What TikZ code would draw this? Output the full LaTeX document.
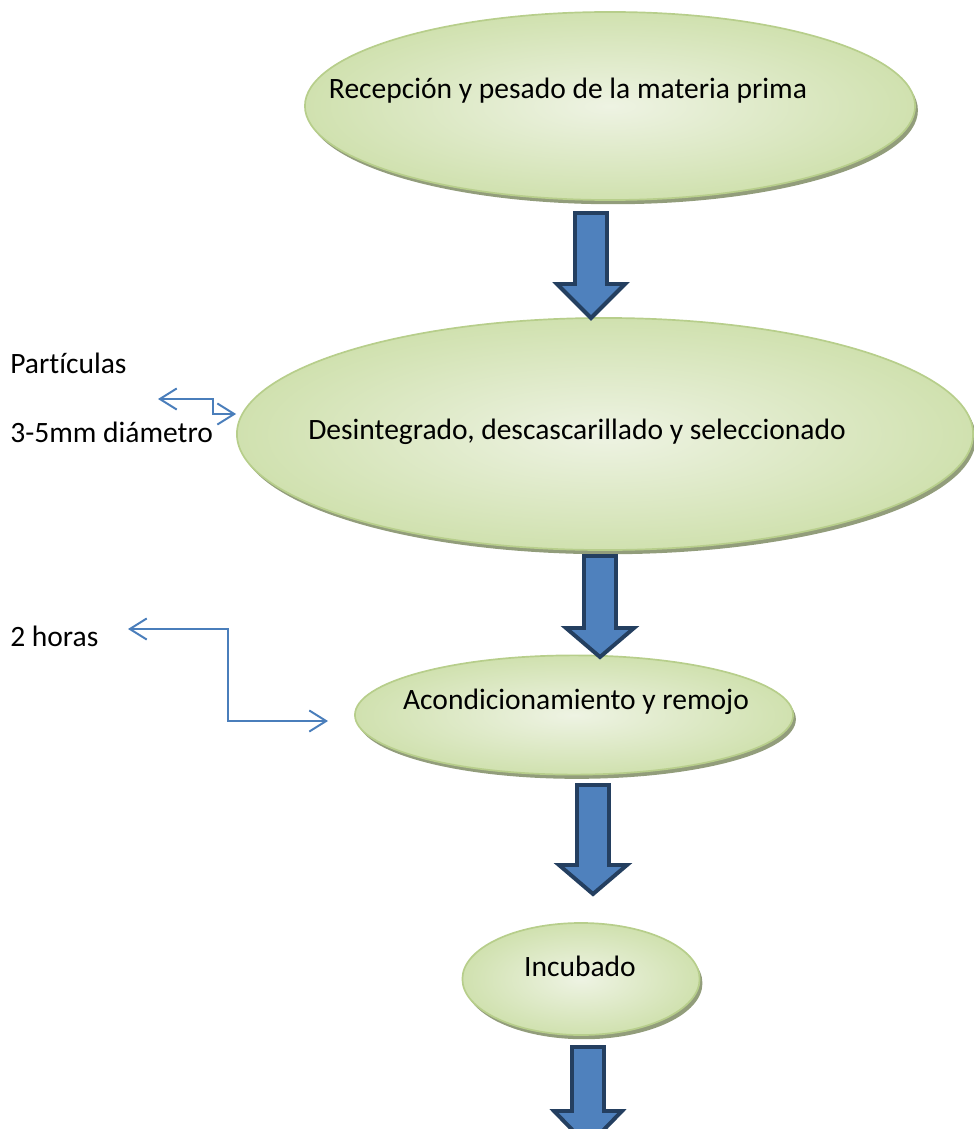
\documentclass[tikz,border=0pt]{standalone}
\usepackage{fontspec}
\setmainfont{Carlito}[Ligatures=NoCommon]
\usetikzlibrary{shapes.geometric,shadows,arrows.meta}
\definecolor{olivein}{HTML}{EEF3E3}
\definecolor{oliveout}{HTML}{D0E1AF}
\definecolor{oliveline}{HTML}{B7CE8B}
\definecolor{blockfill}{HTML}{4F81BD}
\definecolor{blockline}{HTML}{243F60}
\definecolor{linkblue}{HTML}{4A7EBB}
\begin{document}
\begin{tikzpicture}[x=0.025cm,y=-0.025cm,
    font=\fontsize{21}{25}\selectfont,
    etapa/.style={ellipse,inner sep=0pt,draw=oliveline,line width=1.2pt,
      inner color=olivein,outer color=oliveout,
      drop shadow={shadow xshift=2pt,shadow yshift=-3pt,fill=black!30!oliveout,opacity=1}},
    nota/.style={anchor=west,inner sep=0pt},
    enlace/.style={draw=linkblue,line width=1.4pt,{Straight Barb[length=12pt,width=15pt]}-{Straight Barb[length=12pt,width=15pt]}},
    bloque/.style={fill=blockfill,draw=blockline,line width=2.8pt,line join=miter}]
  \useasboundingbox (0,0) rectangle (973,1129);
  % etapas
  \node[etapa,minimum width=15.25cm,minimum height=4.7cm] (recep) at (610,106) {};
  \node[etapa,minimum width=18.4cm,minimum height=5.8cm] (desint) at (605,434) {};
  \node[etapa,minimum width=10.95cm,minimum height=2.98cm] (acond) at (574,715) {};
  \node[etapa,minimum width=5.93cm,minimum height=2.8cm] (incub) at (581,979) {};
  \path
  (568,91) node (recep-t) {Recepción y pesado de la materia prima}
  (577,432) node (desint-t) {Desintegrado, descascarillado y seleccionado}
  (576,702) node (acond-t) {Acondicionamiento y remojo}
  (580,966) node (incub-t) {Incubado}
  (10,363) node[nota] (part) {Partículas}
  (10,432) node[nota] (diam) {3-5mm diámetro}
  (10,636) node[nota] (horas) {2 horas}
  ;
  % flechas de bloque
  \foreach \cx/\top/\base/\tip in {591/213/284/318, 600/556/628/657, 593/785/865/894, 588/1047/1111/1146}
    \draw[bloque] (\cx-16,\top) -- (\cx+16,\top) -- (\cx+16,\base) -- (\cx+34,\base)
      -- (\cx,\tip) -- (\cx-34,\base) -- (\cx-16,\base) -- cycle;
  % conectores
  \coordinate (part-a) at (158,399);
  \coordinate (part-b) at (desint.west |- 0,414);
  \coordinate (horas-a) at (128,629);
  \coordinate (horas-b) at (328,721);
  \draw[enlace] (part-a) -- ++(55,0) |- (part-b);
  \draw[enlace] (horas-a) -- ++(100,0) |- (horas-b);
\end{tikzpicture}
\end{document}
